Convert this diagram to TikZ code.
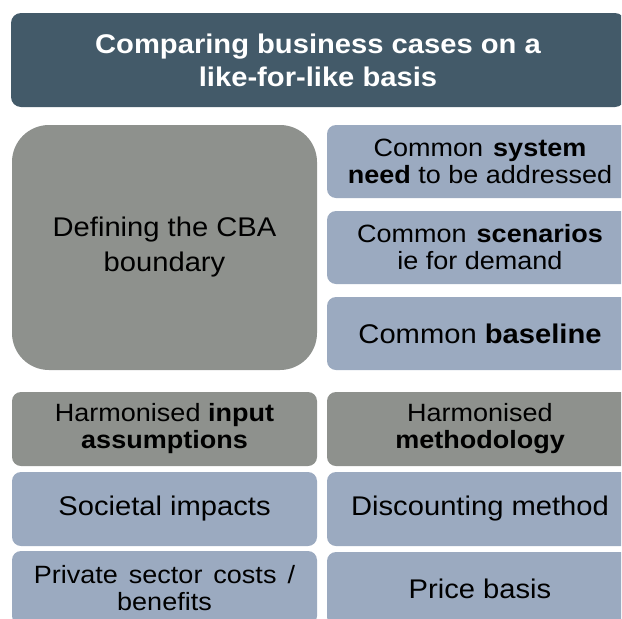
\documentclass[tikz,border=0pt]{standalone}
\usepackage{fontspec}
\setmainfont{Liberation Sans}[FakeStretch=1.08]
\definecolor{titlefill}{RGB}{67,90,105}
\definecolor{greyfill}{RGB}{142,145,141}
\definecolor{bluefill}{RGB}{155,170,192}
\begin{document}
\begin{tikzpicture}[x=1pt,y=-1pt,
  panel/.style={rectangle, rounded corners=9pt, inner sep=0pt, align=center,
    text=black, font=\fontsize{27}{27}\selectfont},
  twoline/.style={font=\fontsize{25}{27}\selectfont},
  headbox/.style={panel, fill=titlefill, text=white, rounded corners=10pt,
    font=\fontsize{27}{33}\selectfont\bfseries},
  greybox/.style={panel, fill=greyfill},
  bluebox/.style={panel, fill=bluefill},
  wide/.style={minimum width=306pt},
  row/.style={minimum height=74pt}]
\useasboundingbox (0,0) rectangle (622,619);
\clip (0,0) rectangle (621,619);

% heading
\node[headbox, minimum width=614pt, minimum height=94pt] (head) at (318,60)
  {Comparing business cases on a\\like-for-like basis};

% system boundary block with its three items
\node[greybox, rounded corners=37pt, minimum width=305pt, minimum height=245pt,
  font=\fontsize{27}{35}\selectfont] (cba) at (164.5,247.5)
  {Defining the CBA\\boundary};
\node[bluebox, wide, minimum height=73pt, twoline] (need) at (480,161.5)
  {Common\hskip10pt\textbf{system}\\\textbf{need} to be addressed};
\node[bluebox, wide, minimum height=73pt, twoline] (scen) at (480,247.5)
  {Common\hskip10pt\textbf{scenarios}\\ie for demand};
\node[bluebox, wide, minimum height=73pt] (base) at (480,333.5)
  {Common \textbf{baseline}};

% input assumptions column
\node[greybox, minimum width=305pt, row, twoline] (inputs) at (164.5,429)
  {Harmonised \textbf{input}\\\textbf{assumptions}};
\node[bluebox, minimum width=305pt, row] (soc) at (164.5,509)
  {Societal impacts};
\node[bluebox, minimum width=305pt, row, twoline] (priv) at (164.5,588)
  {Private\hskip11pt sector\hskip11pt costs\hskip11pt /\\benefits};

% methodology column
\node[greybox, wide, row, twoline] (meth) at (480,429)
  {Harmonised\\\textbf{methodology}};
\node[bluebox, wide, row] (disc) at (480,509)
  {Discounting method};
\node[bluebox, wide, row] (price) at (480,589)
  {Price basis};
\end{tikzpicture}
\end{document}
